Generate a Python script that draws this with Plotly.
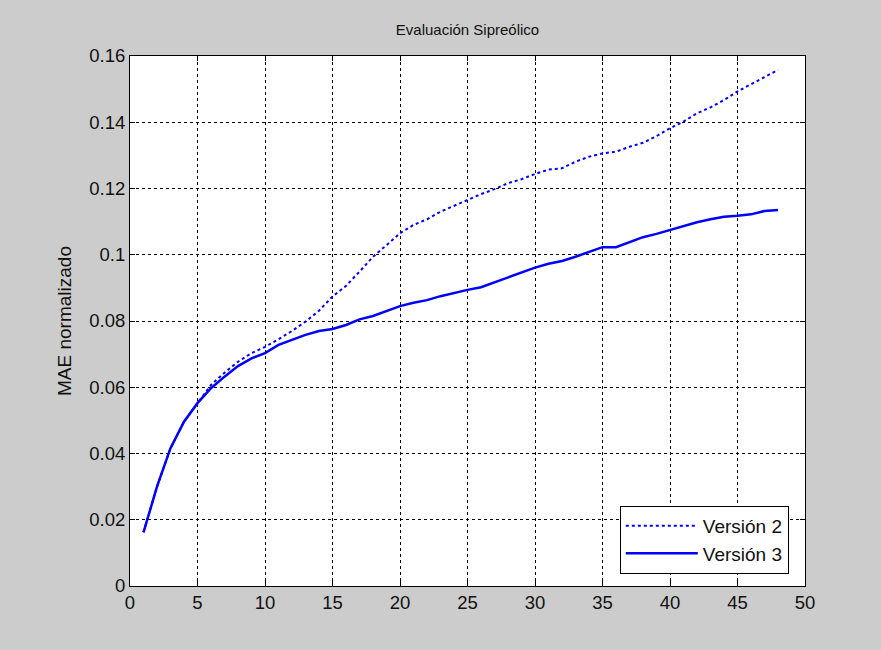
import plotly.graph_objects as go

x_vals = list(range(1, 49))
version2 = [0.0162, 0.0300, 0.0416, 0.0496, 0.0552, 0.0607, 0.0644, 0.0677, 0.0703, 0.0722,
            0.0745, 0.0770, 0.0798, 0.0831, 0.0874, 0.0906, 0.0949, 0.0994, 0.1029, 0.1065,
            0.1090, 0.1107, 0.1130, 0.1148, 0.1167, 0.1183, 0.1198, 0.1216, 0.1228, 0.1244,
            0.1257, 0.1261, 0.1281, 0.1296, 0.1306, 0.1311, 0.1326, 0.1338, 0.1358, 0.1382,
            0.1402, 0.1427, 0.1445, 0.1467, 0.1493, 0.1515, 0.1538, 0.1558]
version3 = [0.0162, 0.0300, 0.0416, 0.0496, 0.0552, 0.0597, 0.0632, 0.0664, 0.0687, 0.0703,
            0.0728, 0.0743, 0.0758, 0.0770, 0.0776, 0.0788, 0.0805, 0.0815, 0.0830, 0.0845,
            0.0855, 0.0863, 0.0875, 0.0885, 0.0894, 0.0902, 0.0917, 0.0932, 0.0946, 0.0961,
            0.0973, 0.0981, 0.0994, 0.1009, 0.1023, 0.1023, 0.1039, 0.1053, 0.1063, 0.1075,
            0.1085, 0.1098, 0.1107, 0.1115, 0.1118, 0.1122, 0.1132, 0.1135]
series_names = ["Versión 2", "Versión 3"]
x_ticks = [0, 5, 10, 15, 20, 25, 30, 35, 40, 45, 50]
y_ticks = [0, 0.02, 0.04, 0.06, 0.08, 0.1, 0.12, 0.14, 0.16]
y_tick_labels = ["0", "0.02", "0.04", "0.06", "0.08", "0.1", "0.12", "0.14", "0.16"]

FONT = "Liberation Sans, Arial, sans-serif"

fig = go.Figure()
fig.add_trace(go.Scatter(x=x_vals, y=version2, mode="lines", name=series_names[0],
                         line=dict(color="#0000FF", width=2, dash="dot")))
fig.add_trace(go.Scatter(x=x_vals, y=version3, mode="lines", name=series_names[1],
                         line=dict(color="#0000FF", width=2.5)))

axis_common = dict(showline=True, linecolor="black", linewidth=1, mirror="ticks",
                   ticks="inside", ticklen=5, tickcolor="black",
                   showgrid=True, gridcolor="black", gridwidth=1, griddash="3px,3px",
                   zeroline=False, tickfont=dict(family=FONT, size=18.5, color="#111111"))

fig.update_xaxes(range=[0, 50], tickvals=x_ticks, **axis_common)
fig.update_yaxes(range=[0, 0.16], tickvals=y_ticks, ticktext=y_tick_labels,
                 title=dict(text="MAE normalizado", font=dict(family=FONT, size=19, color="#111111"),
                            standoff=12),
                 **axis_common)

fig.update_layout(
    width=881, height=650,
    margin=dict(l=130, r=76, t=56, b=64),
    paper_bgcolor="#CCCCCC", plot_bgcolor="white",
    title=dict(text="Evaluación Sipreólico", x=(130 + 805) / 2 / 881, xanchor="center",
               y=1 - 30 / 650, yanchor="middle",
               font=dict(family=FONT, size=15, color="#111111")),
    legend=dict(x=0.976, y=0.023, xanchor="right", yanchor="bottom",
                bgcolor="white", bordercolor="black", borderwidth=1,
                itemwidth=72, font=dict(family=FONT, size=19, color="#111111"),
                tracegroupgap=0),
    showlegend=True,
)

fig.write_html("out.html")
